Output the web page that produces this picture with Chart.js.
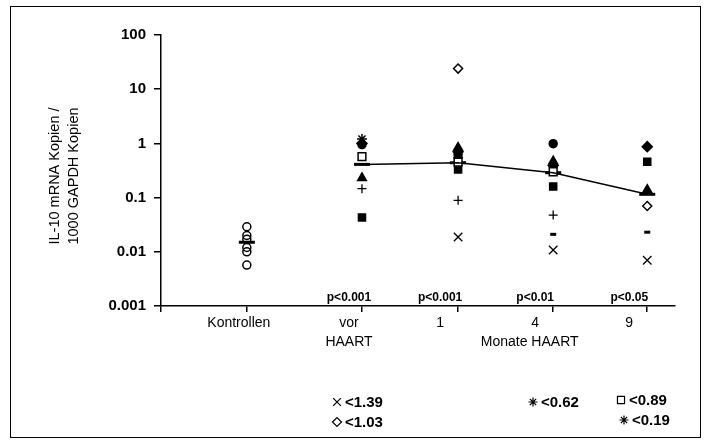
<!DOCTYPE html>
<html><head><meta charset="utf-8">
<script src="https://cdn.jsdelivr.net/npm/chart.js@4.4.0/dist/chart.umd.min.js"></script>
<style>html,body{margin:0;padding:0;background:#fff}#wrap{width:709px;height:443px;position:relative}</style>
</head><body><div id="wrap"><canvas id="c" width="709" height="443"></canvas></div>
<script>
// ---- data ----
const groupLabels = ['Kontrollen', 'vor', '1', '4', '9'];
const groupX = [1.67, 3.91, 5.78, 7.63, 9.46];          // group positions on x axis (0..10)
const pValues = ['', 'p<0.001', 'p<0.001', 'p<0.01', 'p<0.05'];
const yTicks = [0.001, 0.01, 0.1, 1, 10, 100];
const controls = [0.029, 0.02, 0.017, 0.012, 0.01, 0.0057];
const medians = [0.015, 0.41, 0.44, 0.288, 0.115];
// patients: values at vor, 1, 4, 9 Monate
const ptCross       = [null, 0.0187, 0.0108, 0.007];
const ptOpenDiamond = [null, 24, null, 0.07];
const ptOpenSquare  = [0.57, 0.45, 0.30, null];
const ptSquare      = [0.043, 0.33, 0.16, 0.46];
const ptTriangle    = [0.23, 0.84, 0.47, 0.14];
const ptDiamond     = [1.0, 0.7, 0.39, 0.87];
const ptCircle      = [0.95, 0.62, 0.99, null];
const ptPlus        = [0.146, 0.089, 0.0475, null];
const ptStar        = [1.2, 0.55, null, null];
const ptDash        = [null, null, 0.021, 0.023];
const legendNotes = [
  {style: 'crossRot', text: '<1.39'},
  {style: 'rectRot', text: '<1.03'},
  {style: 'star', text: '<0.62'},
  {style: 'rect', text: '<0.89'},
  {style: 'star', text: '<0.19'}
];

// ---- build ----
const FONT = '"Liberation Sans", Arial, sans-serif';
function pts(arr){ return arr.map((v,i)=> v==null?null:{x: groupX[i+1], y: v}).filter(p=>p); }
function ds(arr, style, r, filled, bw){
  return {data: pts(arr), pointStyle: style, pointRadius: r, pointHoverRadius: r,
    pointBackgroundColor: filled ? '#000' : '#fff', pointBorderColor: '#000',
    pointBorderWidth: bw || 1.5, showLine: false, clip: false};
}
const datasets = [
  {data: medians.slice(1).map((v,i)=>({x: groupX[i+1], y: v})), showLine: true, borderColor: '#000',
   borderWidth: 1.5, pointRadius: 0, fill: false, clip: false},
  {data: controls.map(v=>({x: groupX[0], y: v})), pointStyle: 'circle', pointRadius: 4,
   pointBackgroundColor: 'rgba(255,255,255,0)', pointBorderColor: '#000', pointBorderWidth: 1.5, showLine: false, clip: false},
  ds(ptCross, 'crossRot', 6, false, 1.3),
  ds(ptOpenDiamond, 'rectRot', 4.5, false),
  ds(ptOpenSquare, 'rect', 5.5, false),
  ds(ptSquare, 'rect', 5, true),
  ds(ptTriangle, 'triangle', 5, true),
  ds(ptDiamond, 'rectRot', 5, true),
  ds(ptCircle, 'circle', 4, true),
  ds(ptPlus, 'cross', 4.5, false, 1.3),
  ds(ptStar, 'star', 5, false),
  ds(ptDash, 'line', 3, false, 3),
  {data: medians.map((v,i)=>({x: groupX[i], y: v})), pointStyle: 'line', pointRadius: 8,
   pointBorderColor: '#000', pointBorderWidth: 3, showLine: false, clip: false}
];

const textPlugin = {
  id: 'texts',
  afterDraw(chart){
    const ctx = chart.ctx, xs = chart.scales.x;
    ctx.save();
    ctx.strokeStyle = '#000'; ctx.lineWidth = 1;
    ctx.strokeRect(10.5, 6.5, 690, 431);
    ctx.fillStyle = '#000';
    // y title
    ctx.save();
    ctx.translate(64, 176); ctx.rotate(-Math.PI/2);
    ctx.font = '14.5px ' + FONT; ctx.textAlign = 'center'; ctx.textBaseline = 'middle';
    ctx.fillText('IL-10 mRNA Kopien /', 0, -9);
    ctx.fillText('1000 GAPDH Kopien', 0, 10);
    ctx.restore();
    // category labels
    ctx.textAlign = 'center'; ctx.textBaseline = 'middle';
    ctx.font = '14px ' + FONT;
    groupLabels.forEach((l,i)=>{
      const px = xs.getPixelForValue(groupX[i]) - (i===0?8:(i===1?13:18));
      ctx.fillText(l, px, 323);
    });
    ctx.fillText('HAART', xs.getPixelForValue(groupX[1]) - 13, 342);
    ctx.fillText('Monate HAART', (xs.getPixelForValue(groupX[2]) + xs.getPixelForValue(groupX[4]))/2 - 23, 342);
    ctx.font = 'bold 12px ' + FONT;
    pValues.forEach((p,i)=>{
      if(!p) return;
      const px = xs.getPixelForValue(groupX[i]) - (i===1?13:18);
      ctx.fillText(p, px, 298);
    });
    // notes (bottom)
    const pos = [[337,402],[337,422],[533,402],[621,400],[624,420]];
    ctx.font = 'bold 15px ' + FONT; ctx.textAlign = 'left';
    legendNotes.forEach((n,i)=>{
      const [mx,my] = pos[i];
      ctx.lineWidth = 1.2; ctx.strokeStyle = '#000'; ctx.fillStyle = '#fff';
      Chart.helpers.drawPoint(ctx, {pointStyle: n.style, radius: n.style==='rect'?5:(n.style==='crossRot'?5.5:4.5), borderWidth: 1.2}, mx, my);
      ctx.fillStyle = '#000';
      ctx.fillText(n.text, mx + 8, my + 1);
    });
    ctx.restore();
  }
};

new Chart(document.getElementById('c'), {
  type: 'scatter',
  data: {datasets},
  options: {
    responsive: false, animation: false, devicePixelRatio: 1,
    layout: {padding: {left: 0, top: 35, right: 34, bottom: 0}},
    plugins: {legend: {display: false}, tooltip: {enabled: false}},
    scales: {
      x: {type: 'linear', min: 0, max: 10,
        afterBuildTicks(s){ s.ticks = [0].concat(groupX).map(v=>({value: v})); },
        afterFit(s){ s.height = 137; },
        ticks: {display: false},
        grid: {drawOnChartArea: false, drawTicks: true, tickLength: 6, color: '#000', lineWidth: 1.5},
        border: {color: '#000', width: 1.5}
      },
      y: {type: 'logarithmic', min: 0.001, max: 100,
        afterBuildTicks(s){ s.ticks = yTicks.map(v=>({value: v})); },
        afterFit(s){ s.width = 161; },
        ticks: {callback: v => String(v), color: '#000', padding: 8,
          font: {family: FONT, size: 15, weight: 'bold'}},
        grid: {drawOnChartArea: false, drawTicks: true, tickLength: 7, color: '#000', lineWidth: 1.5},
        border: {color: '#000', width: 1.5}
      }
    }
  },
  plugins: [textPlugin]
});
</script></body></html>
